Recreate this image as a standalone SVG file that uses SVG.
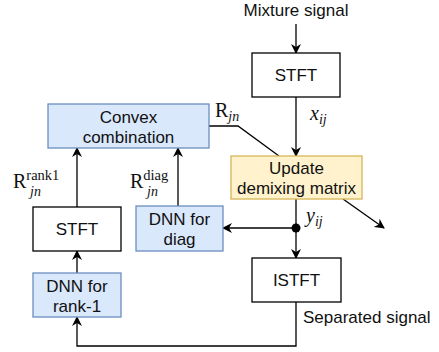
<svg xmlns="http://www.w3.org/2000/svg" width="439" height="352" viewBox="0 0 439 352">
<defs>
<marker id="arr" viewBox="0 0 10 10" refX="9" refY="5" markerWidth="10" markerHeight="10" markerUnits="userSpaceOnUse" orient="auto">
<path d="M0,0 L10,5 L0,10 L3,5 Z" fill="#000"/>
</marker>
<style>
.box{stroke-width:1.3}
.plain{fill:#fff;stroke:#000}
.blue{fill:#dae8fc;stroke:#6c8ebf}
.yellow{fill:#fff2cc;stroke:#d6b656}
.t{font-family:"Liberation Sans",Arial,sans-serif;font-size:17px;fill:#111;text-anchor:middle}
.tl{font-family:"Liberation Sans",Arial,sans-serif;font-size:17px;fill:#111}
.m{font-family:"Liberation Serif","DejaVu Serif",serif;font-size:20px;fill:#111}
.mi{font-style:italic}
.sub{font-size:14px}
.sup{font-size:14.5px}
.c{fill:none;stroke:#000;stroke-width:1.3}
</style>
</defs>
<g id="connectors">
<line class="c" x1="296" y1="24" x2="296" y2="53" marker-end="url(#arr)"/>
<line class="c" x1="296" y1="97" x2="296" y2="156" marker-end="url(#arr)"/>
<polyline class="c" points="209,126 238,126 279,156"/>
<line class="c" x1="296" y1="199" x2="296" y2="258" marker-end="url(#arr)"/>
<line class="c" x1="296" y1="228" x2="223" y2="228" marker-end="url(#arr)"/>
<line class="c" x1="343" y1="199" x2="384" y2="228" marker-end="url(#arr)"/>
<circle cx="296" cy="228" r="4.5" fill="#000"/>
<line class="c" x1="77" y1="207" x2="77" y2="148" marker-end="url(#arr)"/>
<line class="c" x1="178" y1="206" x2="178" y2="148" marker-end="url(#arr)"/>
<line class="c" x1="77" y1="273" x2="77" y2="251" marker-end="url(#arr)"/>
<polyline class="c" points="296,302 296,346 77,346 77,317" marker-end="url(#arr)"/>
</g>
<g id="mixture-label"><text class="t" x="296" y="16">Mixture signal</text></g>
<g id="stft-top"><rect class="box plain" x="252" y="53" width="88" height="44"/><text class="t" x="296" y="81">STFT</text></g>
<g id="convex"><rect class="box blue" x="48" y="104" width="161" height="44"/><text class="t" x="128.5" y="123">Convex</text><text class="t" x="128.5" y="143">combination</text></g>
<g id="update"><rect class="box yellow" x="231" y="156" width="131" height="43"/><text class="t" x="296.5" y="174">Update</text><text class="t" x="296.5" y="194">demixing matrix</text></g>
<g id="stft-left"><rect class="box plain" x="33" y="207" width="88" height="44"/><text class="t" x="77" y="235">STFT</text></g>
<g id="dnn-diag"><rect class="box blue" x="136" y="206" width="87" height="45"/><text class="t" x="179.5" y="225">DNN for</text><text class="t" x="179.5" y="245">diag</text></g>
<g id="istft"><rect class="box plain" x="252" y="258" width="89" height="44"/><text class="t" x="296.5" y="286">ISTFT</text></g>
<g id="dnn-rank1"><rect class="box blue" x="33" y="273" width="88" height="44"/><text class="t" x="77" y="292">DNN for</text><text class="t" x="77" y="312">rank-1</text></g>
<g id="separated-label"><text class="tl" x="303" y="323">Separated signal</text></g>
<g id="labels">
<text class="m" x="215" y="117">R<tspan class="mi sub" dy="4">jn</tspan></text>
<text class="m" x="310" y="120"><tspan class="mi">x</tspan><tspan class="mi sub" dy="4">ij</tspan></text>
<text class="m" x="306" y="222"><tspan class="mi">y</tspan><tspan class="mi sub" dy="4">ij</tspan></text>
<text class="m" x="13" y="188">R<tspan class="sup" dy="-8">rank1</tspan><tspan class="mi sub" x="30" dy="16">jn</tspan></text>
<text class="m" x="130" y="188">R<tspan class="sup" dy="-8">diag</tspan><tspan class="mi sub" x="147" dy="16">jn</tspan></text>
</g>
</svg>
